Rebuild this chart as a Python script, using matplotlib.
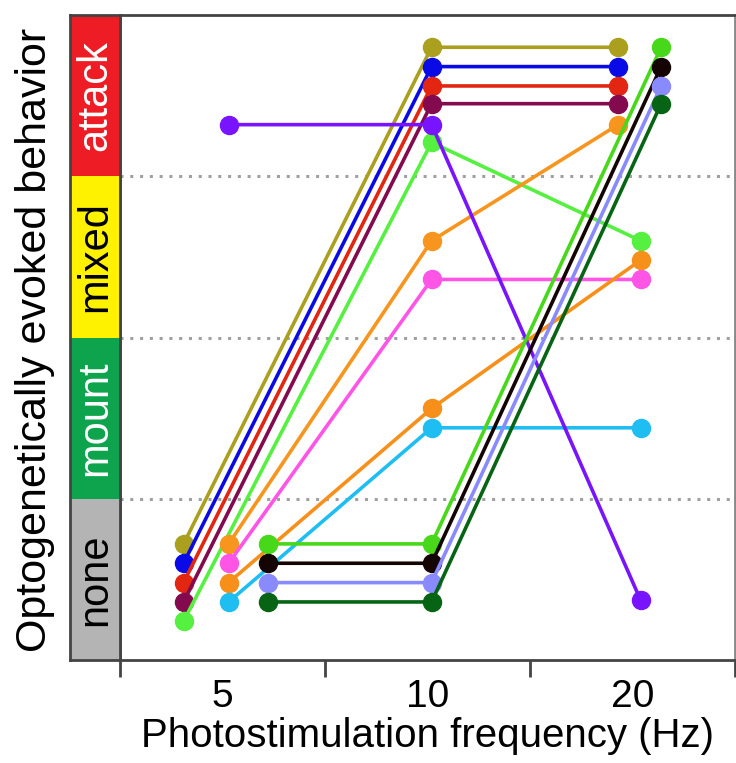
import matplotlib
matplotlib.use("Agg")
import matplotlib.pyplot as plt
from matplotlib.patches import Rectangle

plt.rcParams['font.family'] = ['Liberation Sans', 'DejaVu Sans']

frequencies = ["5", "10", "20"]
behaviors = ["none", "mount", "mixed", "attack"]
behavior_colors = ["#b4b4b4", "#0ea44e", "#fff200", "#ee1c24"]
behavior_text_colors = ["black", "white", "black", "white"]

# x positions (frequency index + jitter) and behaviour scores for each animal
series_x = {
    "olive":    [0.31, 1.52, 2.43],
    "blue":     [0.31, 1.52, 2.43],
    "red":      [0.31, 1.52, 2.43],
    "maroon":   [0.31, 1.52, 2.43],
    "green1":   [0.31, 1.52, 2.54],
    "orange1":  [0.53, 1.52, 2.43],
    "magenta":  [0.53, 1.52, 2.54],
    "orange2":  [0.53, 1.52, 2.54],
    "cyan":     [0.53, 1.52, 2.54],
    "purple":   [0.53, 1.52, 2.54],
    "green2":   [0.72, 1.52, 2.64],
    "black":    [0.72, 1.52, 2.64],
    "lavender": [0.72, 1.52, 2.64],
    "dkgreen":  [0.72, 1.52, 2.64],
}
series_y = {
    "olive":    [0.72, 3.80, 3.80],
    "blue":     [0.60, 3.68, 3.68],
    "red":      [0.48, 3.56, 3.56],
    "maroon":   [0.36, 3.45, 3.45],
    "green1":   [0.24, 3.21, 2.60],
    "orange1":  [0.72, 2.60, 3.32],
    "magenta":  [0.60, 2.36, 2.36],
    "orange2":  [0.48, 1.56, 2.48],
    "cyan":     [0.36, 1.44, 1.44],
    "purple":   [3.32, 3.32, 0.37],
    "green2":   [0.72, 0.72, 3.80],
    "black":    [0.60, 0.60, 3.68],
    "lavender": [0.48, 0.48, 3.56],
    "dkgreen":  [0.36, 0.36, 3.45],
}
series_colors = {
    "olive": "#aaa01e", "blue": "#0a0ae6", "red": "#e22612", "maroon": "#840a50",
    "green1": "#55f040", "orange1": "#f7951e", "magenta": "#ff55e6", "orange2": "#f7901a",
    "cyan": "#1ebef2", "purple": "#7814ff", "green2": "#48d81a", "black": "#140404",
    "lavender": "#8a8aff", "dkgreen": "#066414",
}

W, H = 736, 763
fig = plt.figure(figsize=(W / 100, H / 100), dpi=100)
ax = fig.add_axes([120 / W, 1 - 660 / H, 615 / W, 645 / H])
strip = fig.add_axes([70 / W, 1 - 660 / H, 50 / W, 645 / H], sharey=ax)

ax.set_ylim(0, len(behaviors))
ax.set_xlim(0, len(frequencies))

for y in range(1, len(behaviors)):
    ax.axhline(y, color="#a0a0a0", lw=2.2, ls=(0, (1, 2.2)), zorder=1)

for name in series_x:
    ax.plot(series_x[name], series_y[name], color=series_colors[name], lw=2.6,
            marker="o", ms=13, mec=series_colors[name], zorder=3, clip_on=False)

for s in ax.spines.values():
    s.set_color("#444444")
    s.set_linewidth(2)
ax.spines["right"].set_color("#888888")

ax.set_xticks(range(len(frequencies) + 1))
ax.set_xticklabels([])
ax.set_xticks([i + 0.5 for i in range(len(frequencies))], minor=True)
ax.set_xticklabels(frequencies, minor=True, fontsize=28)
ax.tick_params(axis="x", which="major", length=12, width=2, color="#444444", direction="out")
ax.tick_params(axis="x", which="minor", length=0, pad=14)
ax.tick_params(axis="y", left=False, labelleft=False)
ax.set_xlabel("Photostimulation frequency (Hz)", fontsize=29, labelpad=1)

for i, (b, c, tc) in enumerate(zip(behaviors, behavior_colors, behavior_text_colors)):
    strip.add_patch(Rectangle((0, i), 1, 1, facecolor=c, edgecolor="none"))
    strip.text(0.5, i + 0.5, b, rotation=90, ha="center", va="center",
               color=tc, fontsize=30)
strip.set_xlim(0, 1)
strip.set_xticks([])
strip.tick_params(axis="y", left=False, labelleft=False)
for s in strip.spines.values():
    s.set_color("#444444")
    s.set_linewidth(2)

fig.text(35 / W, 1 - 340 / H, "Optogenetically evoked behavior", rotation=90,
         ha="center", va="center", fontsize=31)

fig.savefig("out.png", dpi=100)
